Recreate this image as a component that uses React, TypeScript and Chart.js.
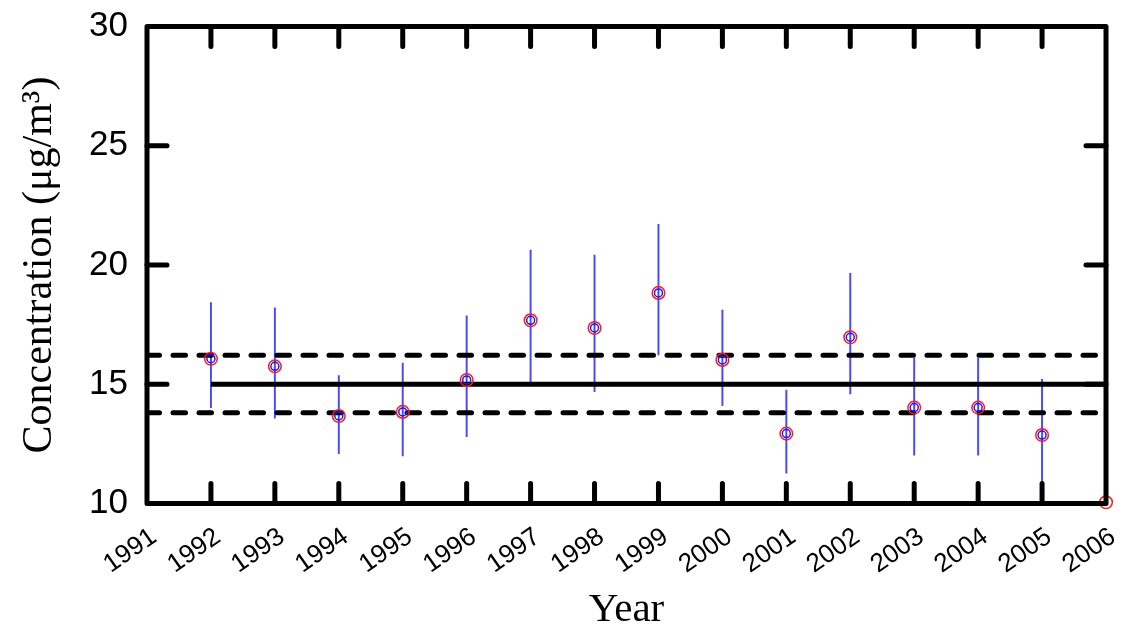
import React, { useEffect, useRef } from "react";
import { Chart, registerables } from "chart.js";

Chart.register(...registerables);

const years = [1992, 1993, 1994, 1995, 1996, 1997, 1998, 1999, 2000, 2001, 2002, 2003, 2004, 2005, 2006];
const means = [16.07, 15.75, 13.67, 13.84, 15.18, 17.68, 17.36, 18.83, 16.02, 12.93, 16.97, 14.02, 14.02, 12.87, 10.05];
const upper = [18.42, 18.2, 15.36, 15.89, 17.87, 20.63, 20.42, 21.71, 18.11, 14.76, 19.65, 16.1, 16.1, 15.21];
const lower = [14.02, 13.58, 12.09, 12.0, 12.8, 15.04, 14.69, 16.23, 14.1, 11.27, 14.59, 12.03, 12.03, 10.0];
const standardLevel = 15;
const upperBound = 16.22;
const lowerBound = 13.8;
const xMin = 1991;
const xMax = 2006;
const yMin = 10;
const yMax = 30;
const yStep = 5;

const framePlugin = {
  id: "frame",
  afterDatasetsDraw(chart: any) {
    const { ctx, chartArea, scales } = chart;
    const { left, right, top, bottom } = chartArea;
    ctx.save();
    ctx.strokeStyle = "#000";
    ctx.lineWidth = 5;
    ctx.lineJoin = "round";
    ctx.lineCap = "round";
    ctx.strokeRect(left, top, right - left, bottom - top);
    const tl = 20;
    for (let v = xMin + 1; v < xMax; v++) {
      const px = scales.x.getPixelForValue(v);
      ctx.beginPath();
      ctx.moveTo(px, bottom);
      ctx.lineTo(px, bottom - tl);
      ctx.moveTo(px, top);
      ctx.lineTo(px, top + tl);
      ctx.stroke();
    }
    for (let v = yMin + yStep; v < yMax; v += yStep) {
      const py = scales.y.getPixelForValue(v);
      ctx.beginPath();
      ctx.moveTo(left, py);
      ctx.lineTo(left + tl, py);
      ctx.moveTo(right, py);
      ctx.lineTo(right - tl, py);
      ctx.stroke();
    }
    ctx.restore();
  },
};

export default function App() {
  const ref = useRef<HTMLCanvasElement>(null);
  useEffect(() => {
    if (!ref.current) return;
    const errData = upper.map((u, i) => ({ x: years[i], y: [lower[i], u] }));
    const ptData = years.map((y, i) => ({ x: y, y: means[i] }));
    const chart = new Chart(ref.current, {
      type: "scatter",
      data: {
        datasets: [
          {
            type: "bar",
            data: errData as any,
            backgroundColor: "#4848ff",
            borderWidth: 0,
            barThickness: 1.3,
            order: 5,
          } as any,
          {
            type: "line",
            data: [
              { x: years[0], y: standardLevel },
              { x: xMax, y: standardLevel },
            ],
            borderColor: "#000",
            borderWidth: 5,
            pointRadius: 0,
            order: 4,
          },
          {
            type: "line",
            data: [
              { x: xMin, y: upperBound },
              { x: xMax, y: upperBound },
            ],
            borderColor: "#000",
            borderWidth: 5,
            borderDash: [12.5, 13.5],
            borderCapStyle: "round",
            pointRadius: 0,
            order: 3,
          },
          {
            type: "line",
            data: [
              { x: xMin, y: lowerBound },
              { x: xMax, y: lowerBound },
            ],
            borderColor: "#000",
            borderWidth: 5,
            borderDash: [12.5, 13.5],
            borderCapStyle: "round",
            pointRadius: 0,
            order: 3,
          },
          {
            data: ptData,
            pointRadius: 6.3,
            pointBorderColor: "#ff1a1a",
            pointBackgroundColor: "rgba(0,0,0,0)",
            pointBorderWidth: 1.5,
            showLine: false,
            clip: false,
            order: 2,
          },
          {
            data: ptData.slice(0, ptData.length - 1),
            pointRadius: 4,
            pointBorderColor: "#1a1aff",
            pointBackgroundColor: "rgba(0,0,0,0)",
            pointBorderWidth: 1.5,
            showLine: false,
            clip: false,
            order: 1,
          },
        ],
      },
      options: {
        animation: false,
        responsive: true,
        maintainAspectRatio: false,
        layout: { padding: { left: 0, right: 18, top: 26.5, bottom: 0 } },
        plugins: { legend: { display: false }, tooltip: { enabled: false } },
        scales: {
          x: {
            type: "linear",
            min: xMin,
            max: xMax,
            offset: false,
            grid: { display: false, drawTicks: false },
            border: { display: false },
            ticks: {
              stepSize: 1,
              autoSkip: false,
              minRotation: 35,
              maxRotation: 35,
              padding: 18,
              labelOffset: 7,
              color: "#000",
              font: { family: "'Liberation Sans', Arial, sans-serif", size: 26 },
              callback: (v: any) => String(v),
            },
            title: {
              display: true,
              text: "Year",
              color: "#000",
              font: { family: "'Liberation Serif', 'Times New Roman', serif", size: 41 },
              padding: { top: 0, bottom: -2 },
            },
            afterFit: (s: any) => {
              s.height = 129.5;
              s.paddingLeft = 0;
              s.paddingRight = 0;
              s.paddingTop = 0;
              s.paddingBottom = 0;
            },
          },
          y: {
            type: "linear",
            min: yMin,
            max: yMax,
            grid: { display: false, drawTicks: false },
            border: { display: false },
            ticks: {
              stepSize: yStep,
              padding: 19,
              color: "#000",
              font: { family: "'Liberation Sans', Arial, sans-serif", size: 35 },
            },
            title: {
              display: true,
              text: "Concentration (μg/m³)",
              color: "#000",
              font: { family: "'Liberation Serif', 'Times New Roman', serif", size: 42 },
              padding: { top: 15, bottom: 0 },
            },
            afterFit: (s: any) => {
              s.width = 147;
              s.paddingLeft = 0;
              s.paddingRight = 0;
              s.paddingTop = 0;
              s.paddingBottom = 0;
            },
          },
        },
      },
      plugins: [framePlugin],
    });
    return () => chart.destroy();
  }, []);
  return (
    <div style={{ position: "absolute", left: 0, top: 0, width: 1124, height: 633, background: "#fff" }}>
      <canvas ref={ref} />
    </div>
  );
}
